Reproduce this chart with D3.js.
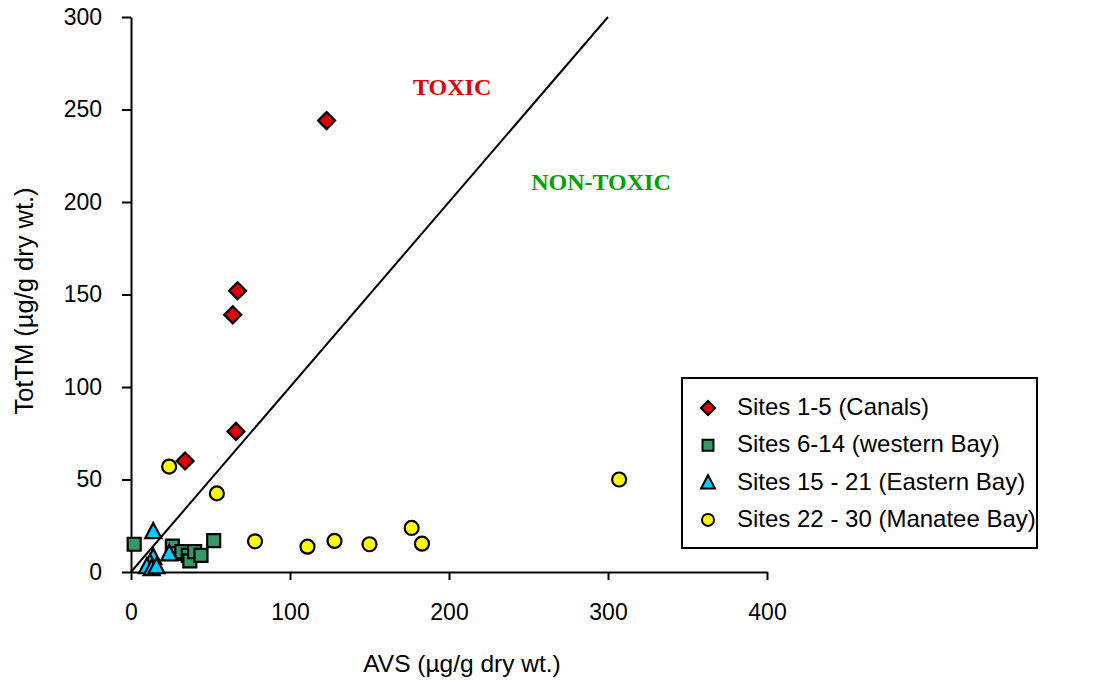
<!DOCTYPE html>
<html><head><meta charset="utf-8">
<script src="https://cdn.jsdelivr.net/npm/d3@7"></script>
<style>body{margin:0;background:#fff}</style>
</head><body>
<svg id="c" width="1102" height="681"></svg>
<script>
const canalsX=[123,67,64,66,34];
const canalsY=[244,152,139,76,60];
const westX=[2,26,28,32,36,37,40,44,52];
const westY=[15,14,10,11,9,6,11,9,17];
const eastX=[14,24,14,12,10,13,16];
const eastY=[22,10,8,5,3,2,3];
const manX=[24,54,78,111,128,150,176.5,183,307];
const manY=[57,42.5,16.6,13.7,16.8,15,23.8,15.3,50];
const xTicks=[0,100,200,300,400];
const yTicks=[0,50,100,150,200,250,300];
const lineX=[0,300];
const seriesNames=["Sites 1-5 (Canals)","Sites 6-14 (western Bay)","Sites 15 - 21 (Eastern Bay)","Sites 22 - 30 (Manatee Bay)"];

const svg=d3.select("#c");
const x=d3.scaleLinear().domain([0,400]).range([131,767]);
const y=d3.scaleLinear().domain([0,300]).range([572,17]);
const font="Arial, 'Liberation Sans', sans-serif";
const serif="'Liberation Serif','Times New Roman',serif";

// custom symbol types (size = half-width)
const tDiamond={draw(c,r){c.moveTo(0,-r);c.lineTo(r,0);c.lineTo(0,r);c.lineTo(-r,0);c.closePath();}};
const tSquare={draw(c,r){c.rect(-r,-r,2*r,2*r);}};
const tTriangle={draw(c,r){c.moveTo(0,-r*1.05);c.lineTo(r,r*0.85);c.lineTo(-r,r*0.85);c.closePath();}};
const tCircle={draw(c,r){c.moveTo(r,0);c.arc(0,0,r,0,2*Math.PI);c.closePath();}};

// axes
const xa=svg.append("g").attr("transform","translate(0,572)")
 .call(d3.axisBottom(x).tickValues(xTicks).tickSize(8).tickPadding(24).tickSizeOuter(0));
const ya=svg.append("g").attr("transform","translate(131,0)")
 .call(d3.axisLeft(y).tickValues(yTicks).tickSize(9).tickPadding(20).tickSizeOuter(0));
[xa,ya].forEach(a=>{
 a.selectAll("path,line").attr("stroke","#000").attr("stroke-width",2);
 a.selectAll("text").attr("font-family",font).attr("font-size",23).attr("fill","#000");
});

// 1:1 line
svg.append("line").attr("x1",x(lineX[0])).attr("y1",y(lineX[0])).attr("x2",x(lineX[1])).attr("y2",y(lineX[1]))
 .attr("stroke","#000").attr("stroke-width",2);

// labels
svg.append("text").attr("x",x(202)).attr("y",y(258)).attr("text-anchor","middle")
 .attr("font-family",serif).attr("font-weight","bold").attr("font-size",24).attr("fill","#DD0000").text("TOXIC");
svg.append("text").attr("x",x(295.6)).attr("y",y(206.5)).attr("text-anchor","middle")
 .attr("font-family",serif).attr("font-weight","bold").attr("font-size",24).attr("fill","#00A000").text("NON-TOXIC");

const styles=[
 {type:tDiamond,size:8.5,leg:7,fill:"#DD0000",xs:canalsX,ys:canalsY},
 {type:tSquare,size:6.5,leg:5.5,fill:"#339966",xs:westX,ys:westY},
 {type:tTriangle,size:8,leg:7,fill:"#00CCFF",xs:eastX,ys:eastY},
 {type:tCircle,size:7,leg:6,fill:"#FFFF00",xs:manX,ys:manY}
];
// draw in order: manatee, west, east, canals
[3,1,2,0].forEach(i=>{
 const s=styles[i];
 const sym=d3.symbol().type(s.type).size(s.size);
 svg.append("g").selectAll("path").data(s.xs.map((v,j)=>[v,s.ys[j]])).join("path")
  .attr("d",sym).attr("transform",d=>`translate(${x(d[0])},${y(d[1])})`)
  .attr("fill",s.fill).attr("stroke","#000").attr("stroke-width",2.2);
});

// axis titles
svg.append("text").attr("x",462).attr("y",672).attr("text-anchor","middle").attr("font-family",font).attr("font-size",24.5).text("AVS (µg/g dry wt.)");
svg.append("text").attr("transform","translate(33,301) rotate(-90)").attr("text-anchor","middle").attr("font-family",font).attr("font-size",25.5).text("TotTM (µg/g dry wt.)");

// legend
const lg=svg.append("g");
lg.append("rect").attr("x",682).attr("y",378).attr("width",355).attr("height",170).attr("fill","#fff").attr("stroke","#000").attr("stroke-width",2);
styles.forEach((s,i)=>{
 const cy=408+i*37.3;
 lg.append("path").attr("d",d3.symbol().type(s.type).size(s.leg)()).attr("transform",`translate(708,${cy})`)
  .attr("fill",s.fill).attr("stroke","#000").attr("stroke-width",2);
 lg.append("text").attr("x",737).attr("y",cy+7).attr("font-family",font).attr("font-size",24).text(seriesNames[i]);
});
</script>
</body></html>
